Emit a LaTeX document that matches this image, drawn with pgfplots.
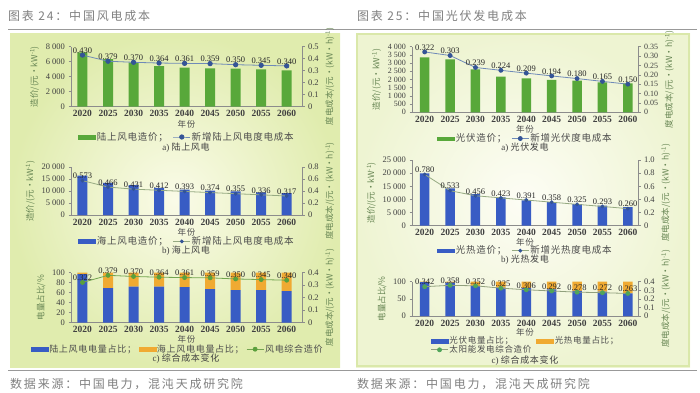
\documentclass[border=0pt]{standalone}
\usepackage{pgfplots}
\pgfplotsset{compat=1.18}
\usepackage{fontspec}
\setmainfont{Liberation Serif}
\newfontfamily\cjk{Noto Sans CJK SC}
\newfontfamily\cjks[LetterSpace=8]{Noto Sans CJK SC}
\newfontfamily\cjkt[LetterSpace=15]{Noto Sans CJK SC}

\definecolor{barG}{RGB}{88,168,58}
\definecolor{barB}{RGB}{56,92,196}
\definecolor{barO}{RGB}{240,170,50}
\definecolor{labG}{RGB}{105,135,85}
\definecolor{lnA}{RGB}{111,138,184}
\definecolor{mkA}{RGB}{52,84,150}
\definecolor{lnB}{RGB}{150,170,130}
\definecolor{lnC}{RGB}{115,165,80}
\definecolor{mkC}{RGB}{90,160,60}
\definecolor{lnD}{RGB}{145,160,125}
\definecolor{mkD}{RGB}{80,165,90}
\definecolor{titleG}{RGB}{128,128,128}
\definecolor{pinL}{RGB}{250,251,232}
\definecolor{poutL}{RGB}{224,236,174}
\definecolor{pinR}{RGB}{253,253,245}
\definecolor{poutR}{RGB}{238,244,210}
\definecolor{pbrd}{RGB}{218,232,170}

\pgfplotsset{
  base/.style={scale only axis, anchor=south west, ymin=0,
    scaled y ticks=false,
    /pgf/number format/assume math mode=true,
    tick align=outside, major tick length=2.5pt,
    axis line style={draw=black!45, line width=0.5pt},
    ytick style={draw=black!45, line width=0.5pt},
    tick label style={font=\fontsize{8.5}{9}\selectfont, text=black!75},
    ylabel style={font=\cjk\fontsize{8.5}{9}\selectfont, text=labG},
    clip=false},
  barax/.style={base, axis x line*=bottom, axis y line*=left,
    xtick={0,...,8},
    xticklabels={2020,2025,2030,2035,2040,2045,2050,2055,2060},
    xtick style={draw=none},
    xticklabel style={font=\fontsize{9.5}{10}\selectfont\bfseries, text=black!75, inner sep=1pt},
    xlabel={年份},
    xlabel style={font=\cjks\fontsize{8.5}{9}\selectfont, text=black!70, inner sep=0pt,
      at={(axis description cs:0.5,0)}, anchor=center, yshift=-17pt}},
  lineax/.style={base, axis x line=none, axis y line*=right, xtick=\empty,
    legend style={draw=none, fill=none, font=\cjks\fontsize{9.5}{10}\selectfont, text=black!70,
      anchor=center, nodes={inner sep=1pt}, /tikz/every even column/.append style={column sep=4pt}},
    legend cell align=left,
    nodes near coords, point meta=explicit symbolic,
    every node near coord/.append style={font=\fontsize{8.5}{9}\selectfont, text=black!85, anchor=south, inner sep=1.2pt}},
  L/.style={xmin=-0.45, xmax=8.6, width=231pt},
  R/.style={xmin=-0.5, xmax=8.4, width=226pt},
}

\begin{document}
\begin{tikzpicture}[x=1pt,y=1pt]
\useasboundingbox (0,0) rectangle (700,392);
% backgrounds
\shade[inner color=pinL, outer color=poutL] (10,25) rectangle (340,359);
\shade[inner color=pinR, outer color=poutR] (356,25) rectangle (690,359);
\draw[pbrd, line width=1.5pt] (357,26) rectangle (689,358);
% titles and rules
\node[anchor=west, font=\cjkt\fontsize{12}{13}\selectfont, text=titleG, inner sep=0pt] at (8,376) {图表 24：中国风电成本};
\node[anchor=west, font=\cjkt\fontsize{12}{13}\selectfont, text=titleG, inner sep=0pt] at (357,376) {图表 25：中国光伏发电成本};
\draw[black!40, line width=0.6pt] (8,363) -- (697,363);
\draw[black!40, line width=0.6pt] (8,22) -- (697,22);
\node[anchor=west, font=\cjkt\fontsize{12}{13}\selectfont, text=titleG, inner sep=0pt] at (10,8) {数据来源：中国电力，混沌天成研究院};
\node[anchor=west, font=\cjkt\fontsize{12}{13}\selectfont, text=titleG, inner sep=0pt] at (357,8) {数据来源：中国电力，混沌天成研究院};

%================ LEFT a) onshore wind
\begin{axis}[barax, L, at={(71pt,285.3pt)}, height=60pt, ybar, bar width=10pt,
  ymax=8000, ytick={0,2000,4000,6000,8000},
  yticklabels={0,2\ 000,4\ 000,6\ 000,8\ 000},
  xlabel style={yshift=-1pt},
  ylabel={造价/(元·kW\textsuperscript{-1})}]
\addplot[fill=barG, draw=none] coordinates {(0,7240) (1,6360) (2,5870) (3,5420) (4,5200) (5,5110) (6,5070) (7,4980) (8,4850)};
\end{axis}
\begin{axis}[lineax, L, at={(71pt,285.3pt)}, height=60pt,
  ymax=0.5, ytick={0,0.1,0.2,0.3,0.4,0.5}, yticklabels={0,0.1,0.2,0.3,0.4,0.5},
  ylabel={度电成本/(元·(kW·h)\textsuperscript{-1})},
  legend columns=-1, legend style={at={(0.5,-0.505)}}]
\addlegendimage{legend image code/.code={\fill[barG] (0pt,-1.8pt) rectangle (17pt,1.8pt);}}
\addlegendentry{陆上风电造价；}
\addplot[lnA, line width=0.8pt, mark=*, mark size=2.2pt, mark options={fill=mkA, draw=mkA}] coordinates {
 (0,0.430) [0.430] (1,0.379) [0.379] (2,0.370) [0.370] (3,0.364) [0.364] (4,0.361) [0.361]
 (5,0.359) [0.359] (6,0.350) [0.350] (7,0.345) [0.345] (8,0.340) [0.340]};
\addlegendentry{新增陆上风电度电成本}
\end{axis}
\node[font=\fontsize{9}{10}\selectfont, text=black!75] at (186,244) {a) {\cjks 陆上风电}};

%================ LEFT b) offshore wind
\begin{axis}[barax, L, at={(71pt,177pt)}, height=48pt, ybar, bar width=10pt,
  ymax=20000, ytick={0,5000,10000,15000,20000},
  yticklabels={0,5\ 000,10\ 000,15\ 000,20\ 000},
  ylabel={造价/(元·kW\textsuperscript{-1})}]
\addplot[fill=barB, draw=none] coordinates {(0,16430) (1,13430) (2,12430) (3,11290) (4,10570) (5,10140) (6,9860) (7,9430) (8,9140)};
\end{axis}
\begin{axis}[lineax, L, at={(71pt,177pt)}, height=48pt,
  ymax=0.8, ytick={0,0.2,0.4,0.6,0.8}, yticklabels={0,0.2,0.4,0.6,0.8},
  ylabel={度电成本/(元·(kW·h)\textsuperscript{-1})},
  legend columns=-1, legend style={at={(0.5,-0.55)}}]
\addlegendimage{legend image code/.code={\fill[barB] (0pt,-1.8pt) rectangle (17pt,1.8pt);}}
\addlegendentry{海上风电造价；}
\addplot[lnB, line width=0.8pt, mark=*, mark size=1.5pt, mark options={fill=mkA, draw=mkA}] coordinates {
 (0,0.573) [0.573] (1,0.466) [0.466] (2,0.431) [0.431] (3,0.412) [0.412] (4,0.393) [0.393]
 (5,0.374) [0.374] (6,0.355) [0.355] (7,0.336) [0.336] (8,0.317) [0.317]};
\addlegendentry{新增陆上风电度电成本}
\end{axis}
\node[font=\fontsize{9}{10}\selectfont, text=black!75] at (186,141) {b) {\cjks 海上风电}};

%================ LEFT c) combined wind
\begin{axis}[barax, L, at={(71pt,69.3pt)}, height=50pt, ybar stacked, bar width=10pt,
  ymax=100, ytick={0,20,40,60,80,100},
  ylabel={电量占比/\%}]
\addplot[fill=barB, draw=none] coordinates {(0,97) (1,69) (2,72) (3,72) (4,71) (5,67) (6,65) (7,65) (8,63)};
\addplot[fill=barO, draw=none] coordinates {(0,3) (1,31) (2,28) (3,28) (4,29) (5,33) (6,35) (7,35) (8,37)};
\end{axis}
\begin{axis}[lineax, L, at={(71pt,69.3pt)}, height=50pt,
  ymax=0.4, ytick={0,0.1,0.2,0.3,0.4}, yticklabels={0,0.1,0.2,0.3,0.4},
  ylabel={度电成本/(元·(kW·h)\textsuperscript{-1})},
  legend columns=-1, legend style={at={(0.46,-0.53)}, font=\cjks\fontsize{9}{10}\selectfont,
    /tikz/every even column/.append style={column sep=1.5pt}}]
\addlegendimage{legend image code/.code={\fill[barB] (0pt,-1.8pt) rectangle (17pt,1.8pt);}}
\addlegendentry{陆上风电电量占比；}
\addlegendimage{legend image code/.code={\fill[barO] (0pt,-1.8pt) rectangle (17pt,1.8pt);}}
\addlegendentry{海上风电电量占比；}
\addplot[lnC, line width=0.8pt, mark=*, mark size=2pt, mark options={fill=mkC, draw=mkC}] coordinates {
 (0,0.322) [0.322] (1,0.379) [0.379] (2,0.370) [0.370] (3,0.364) [0.364] (4,0.361) [0.361]
 (5,0.359) [0.359] (6,0.350) [0.350] (7,0.345) [0.345] (8,0.340) [0.340]};
\addlegendentry{风电综合造价}
\end{axis}
\node[font=\fontsize{9}{10}\selectfont, text=black!75] at (186,33) {c) {\cjks 综合成本变化}};

%================ RIGHT a) PV
\begin{axis}[barax, R, at={(412pt,279.7pt)}, height=65.6pt, ybar, bar width=9.5pt,
  ymax=4000, ytick={0,500,1000,1500,2000,2500,3000,3500,4000},
  yticklabels={0,500,1\ 000,1\ 500,2\ 000,2\ 500,3\ 000,3\ 500,4\ 000},
  tick label style={font=\fontsize{8}{8.5}\selectfont},
  xticklabel style={font=\fontsize{9.5}{10}\selectfont\bfseries},
  ylabel={造价/(元·kW\textsuperscript{-1})}]
\addplot[fill=barG, draw=none] coordinates {(0,3350) (1,3230) (2,2620) (3,2170) (4,2070) (5,1970) (6,1930) (7,1830) (8,1770)};
\end{axis}
\begin{axis}[lineax, R, at={(412pt,279.7pt)}, height=65.6pt,
  ymax=0.35, ytick={0,0.05,0.1,0.15,0.2,0.25,0.3,0.35},
  yticklabels={0,0.05,0.10,0.15,0.20,0.25,0.30,0.35},
  tick label style={font=\fontsize{8}{8.5}\selectfont},
  ylabel={度电成本/(元·(kW·h)\textsuperscript{-1})},
  legend columns=-1, legend style={at={(0.5,-0.4)}}]
\addlegendimage{legend image code/.code={\fill[barG] (0pt,-1.8pt) rectangle (17pt,1.8pt);}}
\addlegendentry{光伏造价；}
\addplot[lnA, line width=0.8pt, mark=*, mark size=2pt, mark options={fill=mkA, draw=mkA}] coordinates {
 (0,0.322) [0.322] (1,0.303) [0.303] (2,0.239) [0.239] (3,0.224) [0.224] (4,0.209) [0.209]
 (5,0.194) [0.194] (6,0.180) [0.180] (7,0.165) [0.165] (8,0.150) [0.150]};
\addlegendentry{新增光伏度电成本}
\end{axis}
\node[font=\fontsize{9}{10}\selectfont, text=black!75] at (525,244.5) {a) {\cjks 光伏发电}};

%================ RIGHT b) CSP
\begin{axis}[barax, R, at={(412pt,166.3pt)}, height=65.7pt, ybar, bar width=9.5pt,
  ymax=25000, ytick={0,5000,10000,15000,20000,25000},
  yticklabels={0,5\ 000,10\ 000,15\ 000,20\ 000,25\ 000},
  ylabel={造价/(元·kW\textsuperscript{-1})}]
\addplot[fill=barB, draw=none] coordinates {(0,19900) (1,14200) (2,12050) (3,10800) (4,9650) (5,9000) (6,8250) (7,7600) (8,7100)};
\end{axis}
\begin{axis}[lineax, R, at={(412pt,166.3pt)}, height=65.7pt,
  ymax=1.0, ytick={0,0.2,0.4,0.6,0.8,1.0}, yticklabels={0,0.2,0.4,0.6,0.8,1.0},
  ylabel={度电成本/(元·(kW·h)\textsuperscript{-1})},
  legend columns=-1, legend style={at={(0.5,-0.38)}}]
\addlegendimage{legend image code/.code={\fill[barB] (0pt,-1.8pt) rectangle (17pt,1.8pt);}}
\addlegendentry{光热造价；}
\addplot[lnB, line width=0.8pt, mark=*, mark size=1.5pt, mark options={fill=mkA, draw=mkA}] coordinates {
 (0,0.780) [0.780] (1,0.533) [0.533] (2,0.456) [0.456] (3,0.423) [0.423] (4,0.391) [0.391]
 (5,0.358) [0.358] (6,0.325) [0.325] (7,0.293) [0.293] (8,0.260) [0.260]};
\addlegendentry{新增光热度电成本}
\end{axis}
\node[font=\fontsize{9}{10}\selectfont, text=black!75] at (525,132) {b) {\cjks 光热发电}};

%================ RIGHT c) combined solar
\begin{axis}[barax, R, at={(412pt,76pt)}, height=34.3pt, ybar stacked, bar width=9.5pt,
  ymax=100, ytick={0,50,100},
  xlabel style={yshift=1pt},
  ylabel={电量占比/\%}]
\addplot[fill=barB, draw=none] coordinates {(0,99) (1,97) (2,88) (3,83) (4,81) (5,78) (6,73) (7,71) (8,66)};
\addplot[fill=barO, draw=none] coordinates {(0,1) (1,3) (2,12) (3,17) (4,19) (5,22) (6,27) (7,29) (8,34)};
\end{axis}
\begin{axis}[lineax, R, at={(412pt,76pt)}, height=34.3pt,
  ymax=0.4, ytick={0,0.1,0.2,0.3,0.4}, yticklabels={0,0.1,0.2,0.3,0.4},
  ylabel={度电成本/(元·(kW·h)\textsuperscript{-1})},
  legend columns=2, legend style={at={(0.5,-0.86)}, row sep=-2pt, font=\cjks\fontsize{8.5}{9}\selectfont}]
\addlegendimage{legend image code/.code={\fill[barB] (0pt,-1.8pt) rectangle (17pt,1.8pt);}}
\addlegendentry{光伏电量占比；}
\addlegendimage{legend image code/.code={\fill[barO] (0pt,-1.8pt) rectangle (17pt,1.8pt);}}
\addlegendentry{光热电量占比；}
\addplot[lnD, line width=0.8pt, mark=*, mark size=2pt, mark options={fill=mkD, draw=mkD}] coordinates {
 (0,0.342) [0.342] (1,0.358) [0.358] (2,0.352) [0.352] (3,0.325) [0.325] (4,0.306) [0.306]
 (5,0.292) [0.292] (6,0.278) [0.278] (7,0.272) [0.272] (8,0.263) [0.263]};
\addlegendentry{太阳能发电综合造价}
\end{axis}
\node[font=\fontsize{9}{10}\selectfont, text=black!75] at (525,31) {c) {\cjks 综合成本变化}};
\end{tikzpicture}
\end{document}
